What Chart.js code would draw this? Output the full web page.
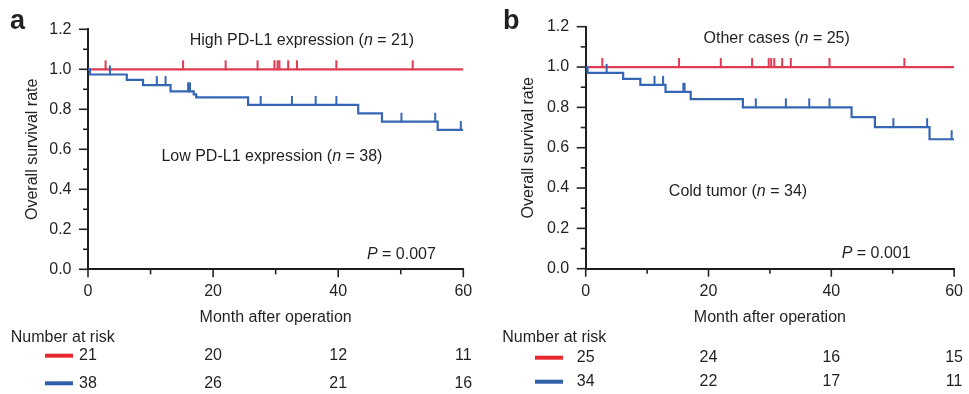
<!DOCTYPE html>
<html><head><meta charset="utf-8">
<script src="https://cdn.jsdelivr.net/npm/chart.js@4/dist/chart.umd.min.js"></script>
<style>
html,body{margin:0;padding:0;background:#fff;}
#wrap{position:relative;width:969px;height:394px;overflow:hidden;}
.pane{position:absolute;top:0;height:394px;}
</style></head><body>
<div id="wrap">
<div class="pane" style="left:0;width:484px"><canvas id="ca" width="484" height="394"></canvas></div>
<div class="pane" style="left:484px;width:485px"><canvas id="cb" width="485" height="394"></canvas></div>
</div>
<script>
// ---------- DATA ----------
// Panel a
const monthsHighA = [0, 60];
const survHighA   = [1.0, 1.0];
const censorHighA = [2.8, 15.2, 22.0, 27.1, 29.8, 30.3, 30.6, 32.0, 33.4, 39.7, 51.9];
const monthsLowA  = [0, 0.3, 6.2, 8.8, 13.2, 16.9, 17.3, 25.6, 43.2, 47.0, 55.9, 60];
const survLowA    = [1.0, 0.974, 0.947, 0.921, 0.890, 0.875, 0.860, 0.822, 0.780, 0.738, 0.697, 0.697];
const censorLowA  = [3.5, 11.0, 12.4, 16.0, 16.3, 27.6, 32.6, 36.4, 39.7, 50.1, 55.5, 59.6];
const riskHighA   = [21, 20, 12, 11];
const riskLowA    = [38, 26, 21, 16];
// Panel b
const monthsHighB = [0, 60];
const survHighB   = [1.0, 1.0];
const censorHighB = [2.7, 15.2, 22.0, 27.1, 29.8, 30.2, 30.7, 32.0, 33.4, 39.7, 51.9];
const monthsLowB  = [0, 0.3, 6.1, 8.9, 13.0, 17.1, 25.6, 43.3, 47.1, 56.0, 60];
const survLowB    = [1.0, 0.971, 0.941, 0.912, 0.877, 0.841, 0.800, 0.752, 0.702, 0.642, 0.642];
const censorLowB  = [3.4, 11.2, 12.6, 15.9, 16.1, 27.7, 32.6, 36.4, 39.7, 50.1, 55.6, 59.6];
const riskHighB   = [25, 24, 16, 15];
const riskLowB    = [34, 22, 17, 11];
// Axis ticks
const riskMonths  = [0, 20, 40, 60];

// ---------- HELPERS ----------
const FONT = '"Liberation Sans", Arial, Helvetica, sans-serif';
const TXT = '#231f20';
const RED = '#e13b52';
const BLUE = '#3566b4';
const RED_KEY = '#e8282f';
const BLUE_KEY = '#2f5fa8';

function toXY(xs, ys){ return xs.map((x,i)=>({x:x, y:ys[i]})); }
function survAt(xs, ys, t){ let v = ys[0]; for (let i=0;i<xs.length;i++){ if (xs[i] <= t) v = ys[i]; } return v; }
function censorPts(cs, xs, ys){ return cs.map(t=>({x:t, y:survAt(xs, ys, t)})); }
function tickImg(color){
  const c = document.createElement('canvas'); c.width = 4; c.height = 20;
  const g = c.getContext('2d'); g.fillStyle = color; g.fillRect(1, 1, 2, 9.5);
  return c;
}
function drawRuns(ctx, runs, cx, cy){
  let w = 0;
  runs.forEach(r=>{ ctx.font = (r[1] ? 'italic ' : '') + '16px ' + FONT; w += ctx.measureText(r[0]).width; });
  let x = cx - w/2;
  ctx.textBaseline = 'middle'; ctx.textAlign = 'left'; ctx.fillStyle = TXT;
  runs.forEach(r=>{ ctx.font = (r[1] ? 'italic ' : '') + '16px ' + FONT; ctx.fillText(r[0], x, cy); x += ctx.measureText(r[0]).width; });
}

const extras = {
  id: 'extras',
  afterDraw(chart){
    const o = chart.options.plugins.extras;
    const ctx = chart.ctx, xs = chart.scales.x, ys = chart.scales.y, a = chart.chartArea;
    ctx.save();
    // tick marks
    ctx.strokeStyle = '#222'; ctx.lineWidth = 1.6;
    ys.ticks.forEach((t, i)=>{
      const y = ys.getPixelForValue(t.value);
      ctx.beginPath(); ctx.moveTo(a.left - 9, y); ctx.lineTo(a.left, y); ctx.stroke();
      if (i < ys.ticks.length - 1){
        const ym = ys.getPixelForValue((t.value + ys.ticks[i+1].value)/2);
        ctx.beginPath(); ctx.moveTo(a.left - 5, ym); ctx.lineTo(a.left, ym); ctx.stroke();
      }
    });
    xs.ticks.forEach((t, i)=>{
      const x = xs.getPixelForValue(t.value);
      ctx.beginPath(); ctx.moveTo(x, a.bottom); ctx.lineTo(x, a.bottom + 8); ctx.stroke();
      if (i < xs.ticks.length - 1){
        const xm = xs.getPixelForValue((t.value + xs.ticks[i+1].value)/2);
        ctx.beginPath(); ctx.moveTo(xm, a.bottom); ctx.lineTo(xm, a.bottom + 5); ctx.stroke();
      }
    });
    // panel letter
    ctx.fillStyle = TXT; ctx.font = 'bold 27px ' + FONT; ctx.textAlign = 'left'; ctx.textBaseline = 'alphabetic';
    ctx.fillText(o.letter, o.letterX, 29);
    // annotations
    o.labels.forEach(l=> drawRuns(ctx, l.runs, xs.getPixelForValue(l.x), ys.getPixelForValue(l.y)));
    // number at risk
    ctx.font = '16px ' + FONT; ctx.textBaseline = 'middle'; ctx.textAlign = 'left'; ctx.fillStyle = TXT;
    ctx.fillText('Number at risk', o.nrX, 338);
    o.rows.forEach(r=>{
      ctx.fillStyle = r.key; ctx.fillRect(a.left - o.keyFrom, r.y - 2, o.keyFrom - o.keyTo, 4);
      ctx.fillStyle = TXT; ctx.textAlign = 'center';
      r.vals.forEach((v, i)=> ctx.fillText(String(v), xs.getPixelForValue(riskMonths[i]) + (i===0 ? o.firstShift : 0), r.y));
    });
    ctx.restore();
  }
};

function makeChart(id, p){
  const ds = [
    {data: toXY(p.mh, p.sh), borderColor: RED, borderWidth: 2.2, stepped: 'before', pointRadius: 0, order: 2},
    {data: toXY(p.ml, p.sl), borderColor: BLUE, borderWidth: 2.2, stepped: 'before', pointRadius: 0, order: 1},
    {data: censorPts(p.ch, p.mh, p.sh), showLine: false, pointStyle: tickImg(RED), pointRadius: 3, order: 2},
    {data: censorPts(p.cl, p.ml, p.sl), showLine: false, pointStyle: tickImg(BLUE), pointRadius: 3, order: 1}
  ];
  return new Chart(document.getElementById(id), {
    type: 'line',
    data: {datasets: ds},
    plugins: [extras],
    options: {
      responsive: false, animation: false, events: [],
      layout: {padding: {left: 0, top: p.top, right: p.right, bottom: 0}},
      plugins: {legend: {display: false}, tooltip: {enabled: false},
        extras: {letter: p.letter, letterX: p.letterX, labels: p.labels, nrX: p.nrX, rows: p.rows,
                 keyFrom: p.keyFrom, keyTo: p.keyTo, firstShift: p.firstShift}},
      scales: {
        x: {type: 'linear', min: 0, max: 60,
            afterFit: s => { s.height = 394 - p.bottom; },
            ticks: {stepSize: 20, padding: 6, color: TXT, font: {family: FONT, size: 16}, maxRotation: 0},
            grid: {display: false, drawTicks: true, tickLength: 7},
            border: {display: true, color: '#1e1e1e', width: 2},
            title: {display: true, text: 'Month after operation', color: TXT, font: {family: FONT, size: 16}, padding: {top: 0, bottom: 67}}},
        y: {min: 0, max: 1.2,
            afterFit: s => { s.width = p.left; },
            ticks: {stepSize: 0.2, padding: 7.5, color: TXT, font: {family: FONT, size: 16}, callback: v => v.toFixed(1)},
            grid: {display: false, drawTicks: true, tickLength: 9},
            border: {display: true, color: '#1e1e1e', width: 2},
            title: {display: true, text: 'Overall survival rate', color: TXT, font: {family: FONT, size: 16}, padding: {top: p.ytitlePad, bottom: 0}}}
      }
    }
  });
}

makeChart('ca', {
  mh: monthsHighA, sh: survHighA, ch: censorHighA, ml: monthsLowA, sl: survLowA, cl: censorLowA,
  top: 29.3, right: 20.7, bottom: 269.3, left: 88, ytitlePad: 23.4,
  letter: 'a', letterX: 10, nrX: 10.7, keyFrom: 43, keyTo: 15, firstShift: 0,
  labels: [
    {x: 34.2, y: 1.143, runs: [['High PD-L1 expression (', false], ['n', true], [' = 21)', false]]},
    {x: 29.4, y: 0.5615, runs: [['Low PD-L1 expression (', false], ['n', true], [' = 38)', false]]},
    {x: 50.1, y: 0.0715, runs: [['P', true], [' = 0.007', false]]}
  ],
  rows: [{y: 355.7, key: RED_KEY, vals: riskHighA}, {y: 383.3, key: BLUE_KEY, vals: riskLowA}]
});
makeChart('cb', {
  mh: monthsHighB, sh: survHighB, ch: censorHighB, ml: monthsLowB, sl: survLowB, cl: censorLowB,
  top: 26.7, right: 9, bottom: 268.7, left: 101.7, ytitlePad: 35.4,
  letter: 'b', letterX: 19, nrX: 18.3, keyFrom: 50.7, keyTo: 22.7, firstShift: 0,
  labels: [
    {x: 31.1, y: 1.139, runs: [['Other cases (', false], ['n', true], [' = 25)', false]]},
    {x: 24.8, y: 0.382, runs: [['Cold tumor (', false], ['n', true], [' = 34)', false]]},
    {x: 47.3, y: 0.073, runs: [['P', true], [' = 0.001', false]]}
  ],
  rows: [{y: 357.7, key: RED_KEY, vals: riskHighB}, {y: 381.7, key: BLUE_KEY, vals: riskLowB}]
});
</script>
</body></html>
